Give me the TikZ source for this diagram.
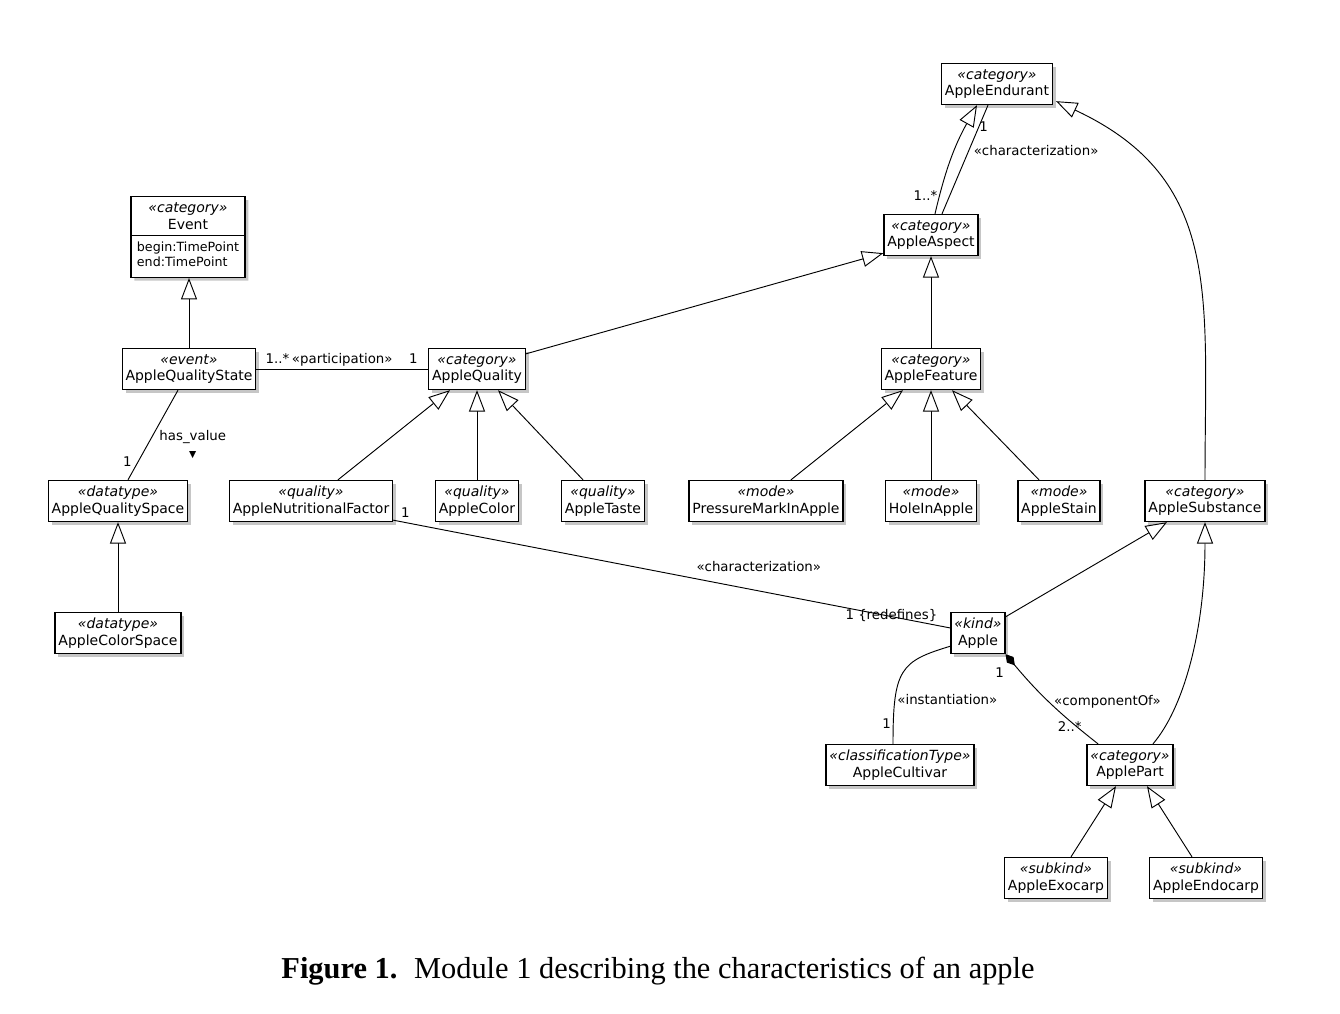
\documentclass[tikz,border=0pt]{standalone}
\usepackage{fontspec}
\setmainfont{Liberation Serif}
\setsansfont{DejaVu Sans}
\usetikzlibrary{arrows.meta,shapes.multipart,shadows,calc,positioning}

\tikzset{
    cls/.style={draw, line width=1pt, fill=white, align=center,
        inner xsep=2.5pt, inner ysep=2pt, minimum height=30.75pt,
        font=\sffamily\fontsize{10.5}{12.5}\selectfont,
        drop shadow={shadow xshift=2.5pt, shadow yshift=-2.5pt,
            fill=black!50, opacity=.45}},
    gen/.style={line width=.7pt,
        -{Triangle[fill=white, length=16pt, width=12pt]}},
    assoc/.style={line width=.7pt},
    lbl/.style={font=\sffamily\fontsize{10}{12}\selectfont, inner sep=1.5pt,
        align=center}
}
\newcommand{\umlcls}[2]{{\itshape«#1»}\\#2}

\begin{document}
\begin{tikzpicture}[x=0.75pt, y=-0.75pt]
    \useasboundingbox (0,0) rectangle (1340,1014);

    % classes
    \node[cls] (endurant) at (997,84)  {\umlcls{category}{AppleEndurant}};
    \node[cls] (aspect)   at (931,235) {\umlcls{category}{AppleAspect}};
    \node[cls, rectangle split, rectangle split parts=2,
        rectangle split part align={center,left},
        inner xsep=4.5pt, inner ysep=4pt, minimum height=0pt,
        anchor=north] (event) at (188,196)
        {\umlcls{category}{Event}
         \nodepart{two}{\fontsize{9.5}{11.25}\selectfont
            \begin{tabular}{@{}l@{}}begin:TimePoint\\end:TimePoint\end{tabular}}};
    \node[cls] (qstate)   at (189,369) {\umlcls{event}{AppleQualityState}};
    \node[cls] (quality)  at (477,369) {\umlcls{category}{AppleQuality}};
    \node[cls] (feature)  at (931,369) {\umlcls{category}{AppleFeature}};

    \node[cls] (qspace)   at (118,501) {\umlcls{datatype}{AppleQualitySpace}};
    \node[cls] (nutr)     at (311,501) {\umlcls{quality}{AppleNutritionalFactor}};
    \node[cls] (color)    at (477,501) {\umlcls{quality}{AppleColor}};
    \node[cls] (taste)    at (603,501) {\umlcls{quality}{AppleTaste}};
    \node[cls] (pressure) at (766,501) {\umlcls{mode}{PressureMarkInApple}};
    \node[cls] (hole)     at (931,501) {\umlcls{mode}{HoleInApple}};
    \node[cls] (stain)    at (1059,501) {\umlcls{mode}{AppleStain}};
    \node[cls] (substance) at (1205,501) {\umlcls{category}{AppleSubstance}};

    \node[cls] (cspace)   at (118,633) {\umlcls{datatype}{AppleColorSpace}};
    \node[cls] (apple)    at (978,633) {\umlcls{kind}{Apple}};
    \node[cls] (cultivar) at (900,765) {\umlcls{classificationType}{AppleCultivar}};
    \node[cls] (part)     at (1130,765) {\umlcls{category}{ApplePart}};
    \node[cls] (exocarp)  at (1056,878) {\umlcls{subkind}{AppleExocarp}};
    \node[cls] (endocarp) at (1206,878) {\umlcls{subkind}{AppleEndocarp}};

    % generalizations
    \draw[gen] ($(aspect.north)+(4,0)$) to[bend left=8]
        node[lbl, pos=.15, anchor=east] {1..*} ($(endurant.south)+(-20,0)$);
    \draw[gen] (substance.north) .. controls +(0,-184) and +(167,78) ..
        ($(endurant.south east)+(3,-4)$);
    \draw[gen] (feature) -- (aspect);
    \draw[gen] ($(quality.north east)+(0,6)$) -- ($(aspect.south west)+(0,-3)$);
    \draw[gen] (qstate.north) -- (qstate.north |- event.south);
    \draw[gen] (cspace) -- (qspace);
    \draw[gen] ($(nutr.north)+(27,0)$) -- ($(quality.south)+(-27,0)$);
    \draw[gen] (color) -- (quality);
    \draw[gen] ($(taste.north)+(-20,0)$) -- ($(quality.south)+(21,0)$);
    \draw[gen] ($(pressure.north)+(25,0)$) -- ($(feature.south)+(-28,0)$);
    \draw[gen] (hole) -- (feature);
    \draw[gen] ($(stain.north)+(-20,0)$) -- ($(feature.south)+(21,0)$);
    \draw[gen] ($(apple.north east)+(0,5)$) -- ($(substance.south)+(-38,0)$);
    \draw[gen] ($(part.north)+(23,0)$) .. controls +(30,-35) and +(0,110) ..
        (substance.south);
    \draw[gen] ($(exocarp.north)+(15,0)$) -- ($(part.south)+(-14,0)$);
    \draw[gen] ($(endocarp.north)+(-14,0)$) -- ($(part.south)+(17,0)$);

    % associations
    \draw[assoc] ($(aspect.north)+(11,0)$) --
        node[lbl, pos=.58, anchor=west, xshift=2pt] {«characterization»}
        node[lbl, pos=.8, anchor=west, inner sep=0pt] {1}
        ($(endurant.south)+(-9,0)$);
    \draw[assoc] (qstate.east) --
        node[lbl, pos=0, anchor=south west, xshift=5pt, yshift=2pt] {1..*}
        node[lbl, pos=.5, above] {«participation»}
        node[lbl, pos=1, anchor=south east, xshift=-6pt, yshift=2pt] {1}
        (quality.west);
    \draw[assoc] ($(qstate.south)+(-11,0)$) --
        node[lbl, pos=.42, anchor=north west] {has\_value\\[1pt]{\scriptsize ▼}}
        node[lbl, pos=.8, anchor=east, xshift=-3pt] {1}
        ($(qspace.north)+(10,0)$);
    \draw[assoc] ($(nutr.south east)+(0,-2)$) --
        node[lbl, pos=0, anchor=south west, xshift=4pt] {1}
        node[lbl, pos=.656, yshift=18pt] {«characterization»}
        node[lbl, pos=.894, yshift=1pt] {1 \{redefines\}}
        ($(apple.west)+(0,-5)$);
    \draw[assoc] ($(apple.south west)+(0,-8)$) .. controls +(-50,15) and +(0,-75) ..
        node[lbl, pos=.75, anchor=west] {«instantiation»}
        node[lbl, pos=.9, anchor=east] {1}
        ($(cultivar.north)+(-7,0)$);
    \draw[assoc, {Diamond[fill=black, length=11pt, width=6.5pt]}-]
        (apple.south east) to[bend right=6]
        node[lbl, pos=.05, anchor=north east, xshift=-3pt, yshift=-4pt] {1}
        node[lbl, pos=.5, anchor=west, xshift=2pt] {«componentOf»}
        node[lbl, pos=.8, xshift=-5pt] {2..*}
        ($(part.north)+(-32,0)$);

    % caption
    \node[font=\fontsize{22.8}{26}\selectfont, anchor=base] (caption) at (658,978)
        {\textbf{Figure 1.}\hspace{0.55em}Module 1 describing the characteristics of an apple};
\end{tikzpicture}
\end{document}
